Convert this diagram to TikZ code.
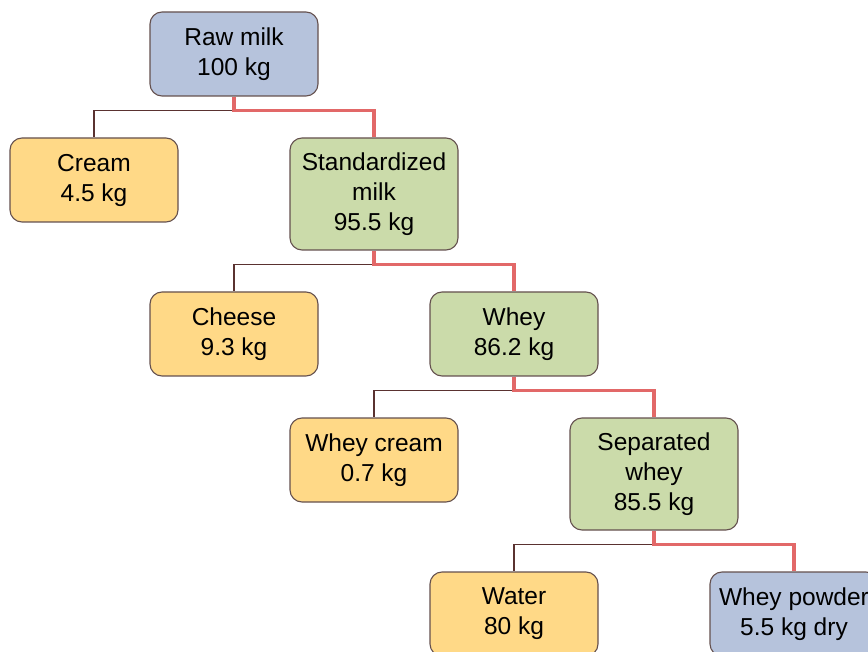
\documentclass[tikz,border=0pt]{standalone}
\usepackage{fontspec}
\setmainfont{Liberation Sans}
\definecolor{boxline}{RGB}{100,80,78}
\definecolor{milkblue}{RGB}{182,195,220}
\definecolor{prodyellow}{RGB}{255,217,135}
\definecolor{flowgreen}{RGB}{203,219,170}
\definecolor{mainred}{RGB}{226,104,104}
\definecolor{sideline}{RGB}{90,50,48}
\begin{document}
\begin{tikzpicture}[x=1pt, y=-1pt,
  stage/.style={draw=boxline, line width=1.1pt, rounded corners=12pt,
    minimum width=168pt, minimum height=84pt, align=center,
    font=\fontsize{24.5}{30}\selectfont, inner sep=0pt},
  tall/.style={minimum height=112pt},
  mainflow/.style={mainred, line width=3.6pt},
  sideflow/.style={sideline, line width=1.1pt}]
\useasboundingbox (0,0) rectangle (868,652);

\node [stage, fill=milkblue] (raw) at (234,54) {Raw milk\\100 kg};
\node [stage, fill=prodyellow] (cream) at (94,180) {Cream\\4.5 kg};
\node [stage, tall, fill=flowgreen] (std) at (374,194) {Standardized\\milk\\95.5 kg};
\node [stage, fill=prodyellow] (cheese) at (234,334) {Cheese\\9.3 kg};
\node [stage, fill=flowgreen] (whey) at (514,334) {Whey\\86.2 kg};
\node [stage, fill=prodyellow] (wcream) at (374,460) {Whey cream\\0.7 kg};
\node [stage, tall, fill=flowgreen] (sep) at (654,474) {Separated\\whey\\85.5 kg};
\node [stage, fill=prodyellow] (water) at (514,614) {Water\\80 kg};
\node [stage, fill=milkblue] (powder) at (794,614) {Whey powder\\5.5 kg dry};

% side products
\draw [sideflow] (raw.south) -- ++(0,14) -| (cream.north);
\draw [sideflow] (std.south) -- ++(0,14) -| (cheese.north);
\draw [sideflow] (whey.south) -- ++(0,14) -| (wcream.north);
\draw [sideflow] (sep.south) -- ++(0,14) -| (water.north);

% main stream
\draw [mainflow] (raw.south) -- ++(0,14) -| (std.north);
\draw [mainflow] (std.south) -- ++(0,14) -| (whey.north);
\draw [mainflow] (whey.south) -- ++(0,14) -| (sep.north);
\draw [mainflow] (sep.south) -- ++(0,14) -| (powder.north);
\end{tikzpicture}
\end{document}
